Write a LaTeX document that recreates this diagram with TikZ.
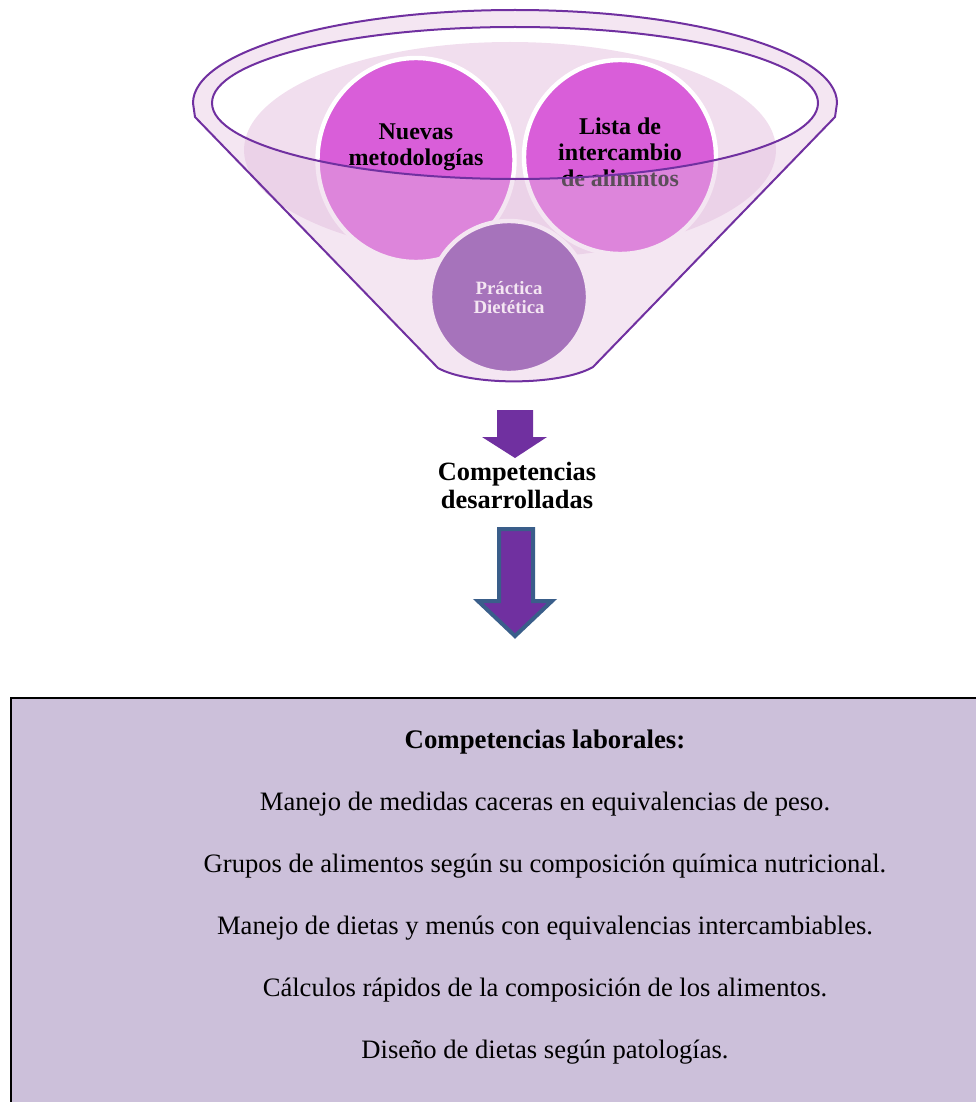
\documentclass[tikz,border=0pt]{standalone}
\usepackage{xcolor}
\usepackage{fontspec}
\setmainfont{Liberation Serif}
\usepackage{tikz}
\usetikzlibrary{shapes.geometric}
\usetikzlibrary{positioning}

\definecolor{funnelline}{HTML}{7030A0}
\definecolor{frontpink}{HTML}{E4C1DF}
\definecolor{softpink}{HTML}{F1DEEE}
\definecolor{bubblepink}{HTML}{D95ED9}
\definecolor{bubblepurple}{HTML}{7D40A4}
\definecolor{arrowpurple}{HTML}{7030A0}
\definecolor{arrowblue}{HTML}{3A5E8A}
\definecolor{boxlilac}{HTML}{CCC0DA}

\tikzset{
  bubble/.style={ellipse, draw=white, line width=2.2pt, inner sep=0pt},
  bubbletext/.style={align=center, font=\bfseries\fontsize{12}{13}\selectfont},
  rim/.style={draw=funnelline, line width=1pt},
}

\begin{document}
\begin{tikzpicture}[x=0.5pt, y=-0.5pt]
\useasboundingbox (0,0) rectangle (975,1102);

% Funnel (back)
\fill[softpink] (510,150) ellipse[x radius=266, y radius=108];

% Nodes
\node[bubble, fill=bubblepink, minimum width=98.5pt, minimum height=102pt] at (416,160) (nuevas) {};
\node[bubble, fill=bubblepink, minimum width=96pt, minimum height=97pt] at (620,157) (lista) {};
\node[bubble, fill=bubblepurple, minimum width=79pt, minimum height=76pt] at (509,297) (practica) {};
\node[bubbletext] at ([yshift=6.5pt]nuevas.center) (nuevast) {Nuevas\\metodologías};
\node[bubbletext] at ([yshift=2.5pt]lista.center) (listat) {Lista de\\intercambio\\de alimntos};
\node[align=center, text=white, font=\bfseries\fontsize{9.4}{9.5}\selectfont] at (509,298) (practicat) {Práctica\\Dietética};

% Funnel (front)
\fill[frontpink, opacity=0.4, even odd rule] (438,368) -- (195,117) -- (193,103)
  arc[start angle=180, end angle=360, x radius=322, y radius=93] -- (835,117) -- (593,367)
  .. controls (560,386) and (470,386) .. (438,368) -- cycle
  (515,103) ellipse[x radius=303, y radius=76];
\draw[rim] (438,368) -- (195,117) -- (193,103)
  arc[start angle=180, end angle=360, x radius=322, y radius=93] -- (835,117) -- (593,367)
  .. controls (560,386) and (470,386) .. (438,368) -- cycle;
\draw[rim] (515,103) ellipse[x radius=303, y radius=76];

% Arrows
\fill[arrowpurple] (497,410) -- (533,410) -- (533,437) -- (547,437) -- (515,458)
  -- (482,437) -- (497,437) -- cycle;
\node[align=center, font=\bfseries\fontsize{13.2}{14}\selectfont] at (517,485) (desarrolladas) {Competencias\\desarrolladas};
\filldraw[fill=arrowpurple, draw=arrowblue, line width=2pt, line join=miter]
  (499,529) -- (533,529) -- (533,601) -- (552,601) -- (515,636)
  -- (478,601) -- (499,601) -- cycle;

% Box
\node[rectangle, draw=black, fill=boxlilac, line width=1pt, anchor=north west,
  minimum width=535pt, minimum height=215pt] at (10,697) (laborales) {};
\node[align=center, font=\fontsize{13.3}{31}\selectfont] at (545,897) (lista-comp)
  {{\bfseries\fontsize{13.4}{31}\selectfont Competencias laborales:}\\
   Manejo de medidas caceras en equivalencias de peso.\\
   Grupos de alimentos según su composición química nutricional.\\
   Manejo de dietas y menús con equivalencias intercambiables.\\
   Cálculos rápidos de la composición de los alimentos.\\
   Diseño de dietas según patologías.};

\end{tikzpicture}
\end{document}
